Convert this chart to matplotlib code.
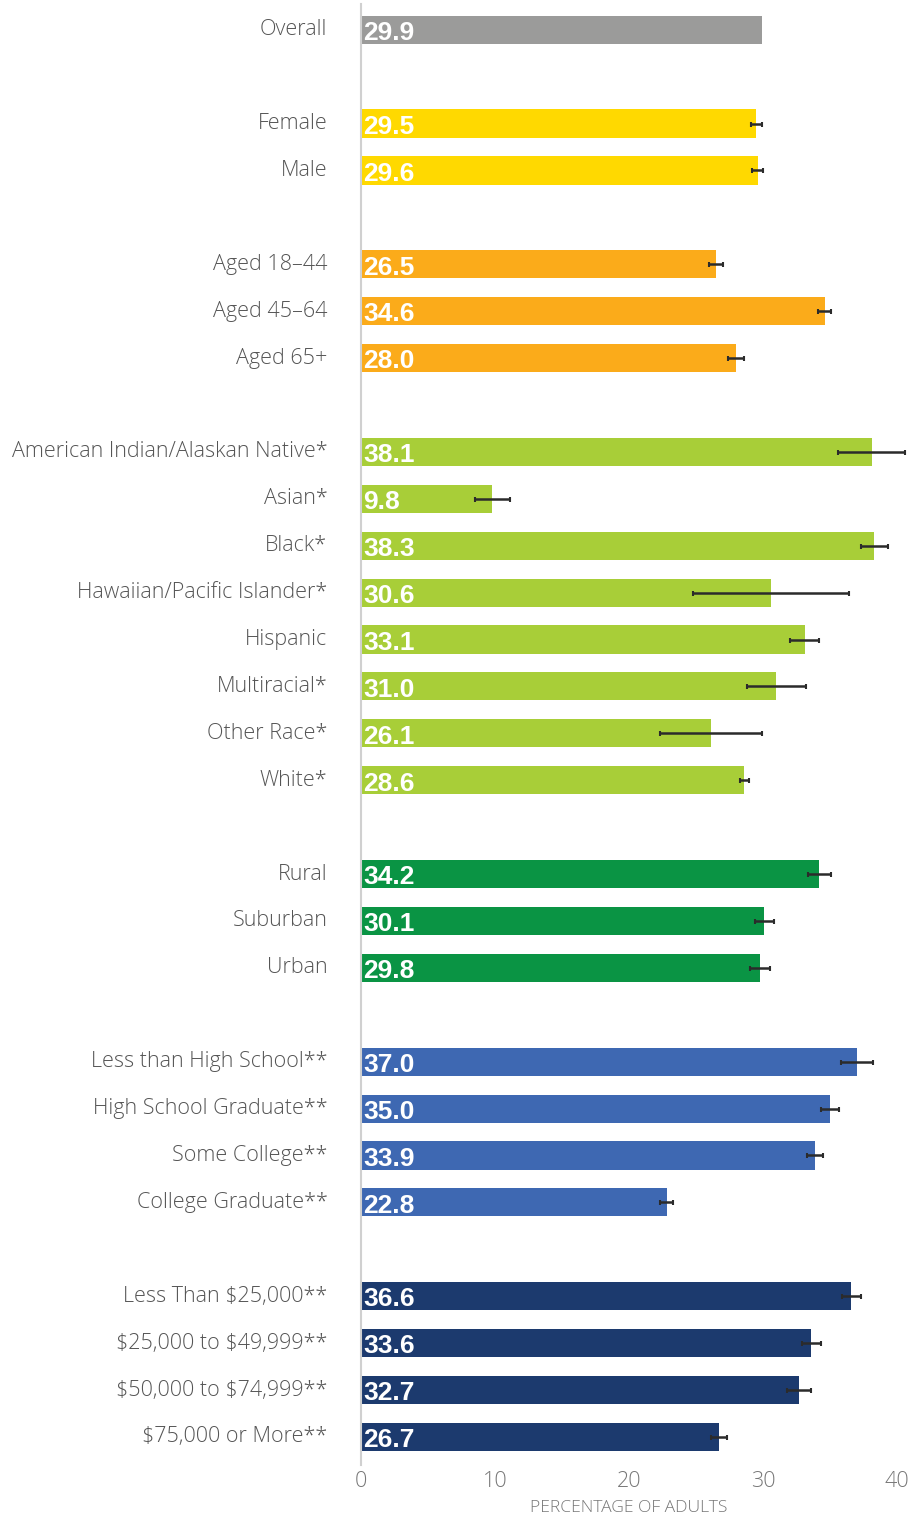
import numpy as np
import matplotlib.pyplot as plt

labels = ["Overall",
          "Female", "Male",
          "Aged 18\u201344", "Aged 45\u201364", "Aged 65+",
          "American Indian/Alaskan Native*", "Asian*", "Black*",
          "Hawaiian/Pacific Islander*", "Hispanic", "Multiracial*",
          "Other Race*", "White*",
          "Rural", "Suburban", "Urban",
          "Less than High School**", "High School Graduate**",
          "Some College**", "College Graduate**",
          "Less Than \\$25,000**", "\\$25,000 to \\$49,999**",
          "\\$50,000 to \\$74,999**", "\\$75,000 or More**"]
values = [29.9,
          29.5, 29.6,
          26.5, 34.6, 28.0,
          38.1, 9.8, 38.3, 30.6, 33.1, 31.0, 26.1, 28.6,
          34.2, 30.1, 29.8,
          37.0, 35.0, 33.9, 22.8,
          36.6, 33.6, 32.7, 26.7]
errors = [0.0,
          0.4, 0.4,
          0.5, 0.5, 0.6,
          2.5, 1.3, 1.0, 5.8, 1.05, 2.2, 3.8, 0.35,
          0.85, 0.7, 0.75,
          1.2, 0.7, 0.6, 0.5,
          0.7, 0.7, 0.9, 0.6]
group_sizes = [1, 2, 3, 8, 3, 4, 4]
group_colors = ["#9b9b9a", "#ffd900", "#fbab1a", "#a8ce38",
                "#0a9444", "#3e68b2", "#1c3a6e"]

# row positions: one blank row between groups
rows, colors = [], []
r = 0
for size, col in zip(group_sizes, group_colors):
    for i in range(size):
        rows.append(r)
        colors.append(col)
        r += 1
    r += 1
rows = np.array(rows)

fig = plt.figure(figsize=(9.13, 15.16), dpi=100)
ax = fig.add_axes([0.3954, 0.0336, 0.5871, 0.9638])

ax.barh(rows, values, height=0.6, color=colors, zorder=2)
has_err = np.array(errors) > 0
ax.errorbar(np.array(values)[has_err], rows[has_err],
            xerr=np.array(errors)[has_err], fmt='none',
            ecolor='#2b2b2b', elinewidth=1.8, capsize=1.8, capthick=1.5,
            zorder=3, clip_on=False)

for y, v in zip(rows, values):
    ax.text(0.15, y + 0.07, f"{v:.1f}", color='white', fontsize=19,
            fontweight='bold', family='Liberation Sans', va='center', ha='left', zorder=4)

for y, lab in zip(rows, labels):
    ax.text(-2.5, y + 0.0, lab, ha='right', va='center', fontsize=15.5,
            color='#555555', family='Open Sans', fontweight='light')

ax.set_xlim(0, 40)
ax.set_ylim(rows.max() + 0.6, -0.55)
ax.set_yticks([])
ax.set_xticks([0, 10, 20, 30, 40])
ax.tick_params(axis='x', length=0, labelsize=15.5, labelcolor='#777777', pad=4)
for t in ax.get_xticklabels():
    t.set_family('Open Sans')
    t.set_fontweight('light')
for s in ['top', 'right', 'bottom']:
    ax.spines[s].set_visible(False)
ax.spines['left'].set_color('#d0d0d0')
ax.spines['left'].set_linewidth(1.5)
ax.set_xlabel("PERCENTAGE OF ADULTS", fontsize=12.6, color='#777777',
              family='Open Sans', fontweight='light', labelpad=6)

fig.savefig("out.png", dpi=100)
